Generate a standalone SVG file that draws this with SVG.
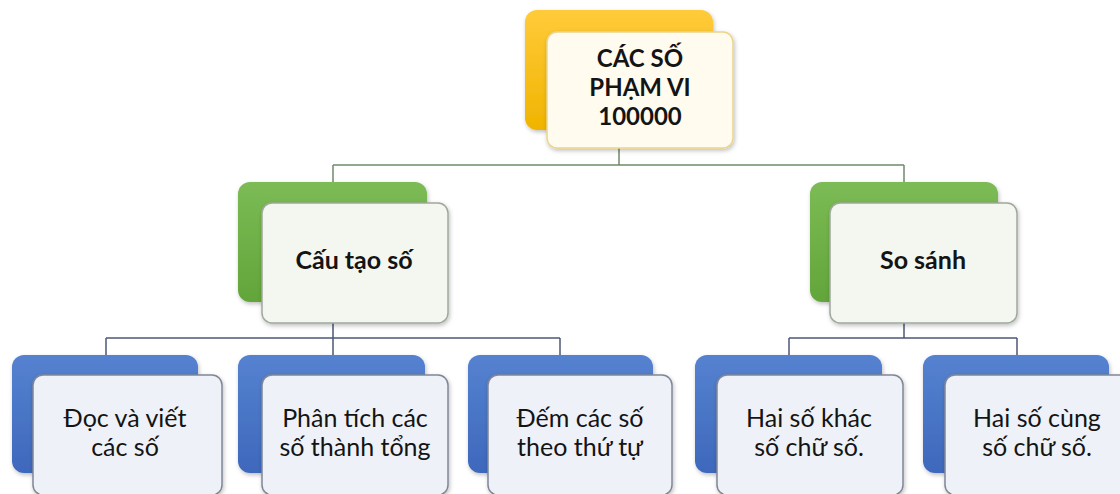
<svg xmlns="http://www.w3.org/2000/svg" width="1120" height="494" viewBox="0 0 1120 494">
<defs>
<linearGradient id="gy" x1="0" y1="0" x2="0" y2="1"><stop offset="0" stop-color="#FFCB3A"/><stop offset="1" stop-color="#F0B400"/></linearGradient>
<linearGradient id="gg" x1="0" y1="0" x2="0" y2="1"><stop offset="0" stop-color="#7CBB55"/><stop offset="1" stop-color="#62A53A"/></linearGradient>
<linearGradient id="gb" x1="0" y1="0" x2="0" y2="1"><stop offset="0" stop-color="#5582D0"/><stop offset="1" stop-color="#3E68BC"/></linearGradient>
<filter id="sh" x="-10%" y="-10%" width="130%" height="130%"><feDropShadow dx="1" dy="2" stdDeviation="2" flood-color="#000" flood-opacity="0.25"/></filter>
</defs>
<style>
text{font-family:Lato,"Liberation Sans",sans-serif;fill:#141414;text-anchor:middle}
.t{font-weight:bold;font-size:24px}
.b{font-weight:bold;font-size:25px}
.n{font-size:25px}
.fy{fill:#FFFBEF;stroke:#EBD58A;stroke-width:1.5}
.fg{fill:#F4F7F0;stroke:#9FA89A;stroke-width:1.5}
.fb{fill:#EEF1F8;stroke:#7F8696;stroke-width:1.5}
.cg{fill:none;stroke:#6F8A6A;stroke-width:1.5}
.cb{fill:none;stroke:#4C5877;stroke-width:1.5}
</style>
<rect width="1120" height="494" fill="#fff"/>
<g id="connectors">
<path class="cg" d="M619 148V165M333 165H904M333 165V182M904 165V182"/>
<path class="cb" d="M333 323V338M106 338H560M106 338V355M333 338V355M560 338V355"/>
<path class="cb" d="M904 323V338M789 338H1017M789 338V355M1017 338V355"/>
</g>
<g id="root">
<rect x="525" y="10" width="188" height="120" rx="12" fill="url(#gy)" filter="url(#sh)"/>
<rect class="fy" x="547" y="32" width="186" height="116" rx="10" filter="url(#sh)"/>
<text class="t" x="640" y="67">CÁC SỐ</text>
<text class="t" x="640" y="96">PHẠM VI</text>
<text class="t" x="640" y="125">100000</text>
</g>
<g id="cautao">
<rect x="238" y="182" width="189" height="120" rx="12" fill="url(#gg)" filter="url(#sh)"/>
<rect class="fg" x="262" y="203" width="186" height="120" rx="10" filter="url(#sh)"/>
<text class="b" x="354" y="269">Cấu tạo số</text>
</g>
<g id="sosanh">
<rect x="810" y="182" width="188" height="120" rx="12" fill="url(#gg)" filter="url(#sh)"/>
<rect class="fg" x="830" y="203" width="187" height="120" rx="10" filter="url(#sh)"/>
<text class="b" x="923" y="269">So sánh</text>
</g>
<g id="leaf1">
<rect x="12" y="355" width="186" height="118" rx="12" fill="url(#gb)" filter="url(#sh)"/>
<rect class="fb" x="33" y="375" width="189" height="120" rx="10" filter="url(#sh)"/>
<text class="n" x="125" y="427">Đọc và viết</text>
<text class="n" x="125" y="456">các số</text>
</g>
<g id="leaf2">
<rect x="238" y="355" width="187" height="118" rx="12" fill="url(#gb)" filter="url(#sh)"/>
<rect class="fb" x="262" y="375" width="186" height="120" rx="10" filter="url(#sh)"/>
<text class="n" x="355" y="427">Phân tích các</text>
<text class="n" x="355" y="456">số thành tổng</text>
</g>
<g id="leaf3">
<rect x="468" y="355" width="185" height="118" rx="12" fill="url(#gb)" filter="url(#sh)"/>
<rect class="fb" x="488" y="375" width="184" height="120" rx="10" filter="url(#sh)"/>
<text class="n" x="580" y="427">Đếm các số</text>
<text class="n" x="580" y="456">theo thứ tự</text>
</g>
<g id="leaf4">
<rect x="695" y="355" width="187" height="118" rx="12" fill="url(#gb)" filter="url(#sh)"/>
<rect class="fb" x="717" y="375" width="186" height="120" rx="10" filter="url(#sh)"/>
<text class="n" x="809" y="427">Hai số khác</text>
<text class="n" x="809" y="456">số chữ số.</text>
</g>
<g id="leaf5">
<rect x="923" y="355" width="186" height="118" rx="12" fill="url(#gb)" filter="url(#sh)"/>
<rect class="fb" x="945" y="375" width="186" height="120" rx="10" filter="url(#sh)"/>
<text class="n" x="1037" y="427">Hai số cùng</text>
<text class="n" x="1037" y="456">số chữ số.</text>
</g>
</svg>
